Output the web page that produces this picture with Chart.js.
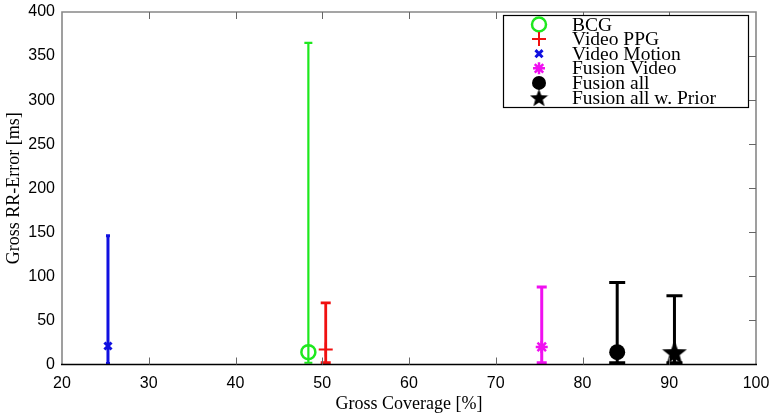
<!DOCTYPE html>
<html>
<head>
<meta charset="utf-8">
<script src="https://cdn.jsdelivr.net/npm/chart.js@4"></script>
<style>
  html, body { margin: 0; padding: 0; background: #fff; }
  #wrap { width: 771px; height: 414px; }
</style>
</head>
<body>
<div id="wrap"><canvas id="rrChart" width="771" height="414"></canvas></div>
<script>
// data
var seriesNames = ['BCG', 'Video PPG', 'Video Motion', 'Fusion Video', 'Fusion all', 'Fusion all w. Prior'];
var coverage = [48.4, 50.4, 25.3, 75.3, 84.0, 90.6];      // Gross Coverage [%]
var errMean = [14, 17, 21, 20, 14, 14];                   // Gross RR-Error [ms]
var errLow = [2, 2, 1, 2, 2, 2];
var errHigh = [365, 70, 146, 88, 93, 78];
var xTicks = [20, 30, 40, 50, 60, 70, 80, 90, 100];
var yTicks = [0, 50, 100, 150, 200, 250, 300, 350, 400];

// filled five-pointed star as point image
function makeStar(size) {
    var c = document.createElement('canvas');
    c.width = size; c.height = size;
    var g = c.getContext('2d');
    var r = size / 2, ri = r * 0.42;
    g.beginPath();
    for (var i = 0; i < 10; i++) {
        var rad = (i % 2 === 0) ? r : ri;
        var a = -Math.PI / 2 + i * Math.PI / 5;
        var px = r + rad * Math.cos(a), py = r + rad * Math.sin(a) + size * 0.05;
        if (i === 0) g.moveTo(px, py); else g.lineTo(px, py);
    }
    g.closePath();
    g.fillStyle = '#000';
    g.fill();
    return c;
}

var styles = [
    { color: '#1ee81e', point: 'circle', radius: 7, bw: 2.5, fill: 'rgba(0,0,0,0)', lw: 2.2, cap: 4, lr: 7 },
    { color: '#f01010', point: 'cross', radius: 7, bw: 2, fill: '#f01010', lw: 2.8, cap: 5, lr: 7 },
    { color: '#1010e0', point: 'crossRot', radius: 5, bw: 3, fill: '#1010e0', lw: 3, cap: 2, lr: 5 },
    { color: '#f010f0', point: 'star', radius: 6, bw: 2.5, fill: '#f010f0', lw: 3, cap: 5, lr: 6 },
    { color: '#000000', point: 'circle', radius: 8, bw: 0, fill: '#000000', lw: 3, cap: 8, lr: 7 },
    { color: '#000000', point: makeStar(26), radius: 12, bw: 0, fill: '#000000', lw: 3, cap: 8, lr: 9 }
];
var legendStar = makeStar(19);

var datasets = seriesNames.map(function(name, i) {
    var s = styles[i];
    return {
        label: name,
        data: [{ x: coverage[i], y: errMean[i] }],
        pointStyle: s.point,
        pointRadius: s.radius,
        pointBorderWidth: s.bw,
        borderColor: s.color,
        backgroundColor: s.fill,
        showLine: false,
        clip: false
    };
});

// error bars, drawn under the markers
var errorBars = {
    id: 'errorBars',
    beforeDatasetsDraw: function(chart) {
        var ctx = chart.ctx, xs = chart.scales.x, ys = chart.scales.y;
        ctx.save();
        for (var i = 0; i < coverage.length; i++) {
            var s = styles[i];
            var px = xs.getPixelForValue(coverage[i]);
            var y1 = ys.getPixelForValue(errLow[i]);
            var y2 = ys.getPixelForValue(errHigh[i]);
            ctx.strokeStyle = s.color;
            ctx.lineWidth = s.lw;
            ctx.beginPath();
            ctx.moveTo(px, y1); ctx.lineTo(px, y2);
            ctx.moveTo(px - s.cap, y1); ctx.lineTo(px + s.cap, y1);
            ctx.moveTo(px - s.cap, y2); ctx.lineTo(px + s.cap, y2);
            ctx.stroke();
        }
        ctx.restore();
    }
};

// matlab style box with inward ticks
var boxAxes = {
    id: 'boxAxes',
    afterDraw: function(chart) {
        var ctx = chart.ctx, a = chart.chartArea, xs = chart.scales.x, ys = chart.scales.y;
        ctx.save();
        ctx.strokeStyle = '#888';
        ctx.lineWidth = 1.6;
        ctx.beginPath();
        ctx.moveTo(a.left, a.bottom); ctx.lineTo(a.left, a.top);
        ctx.lineTo(a.right, a.top); ctx.lineTo(a.right, a.bottom);
        ctx.stroke();
        ctx.strokeStyle = '#000';
        ctx.lineWidth = 1.3;
        ctx.beginPath();
        ctx.moveTo(a.left - 1, a.bottom); ctx.lineTo(a.right + 1, a.bottom);
        ctx.stroke();
        ctx.strokeStyle = '#666';
        ctx.lineWidth = 1;
        ctx.beginPath();
        xTicks.forEach(function(v) {
            var p = Math.round(xs.getPixelForValue(v)) + 0.5;
            if (v === 20 || v === 100) return;
            ctx.moveTo(p, a.bottom); ctx.lineTo(p, a.bottom - 7);
            ctx.moveTo(p, a.top); ctx.lineTo(p, a.top + 7);
        });
        yTicks.forEach(function(v) {
            var p = Math.round(ys.getPixelForValue(v)) + 0.5;
            if (v === 0 || v === 400) return;
            ctx.moveTo(a.right, p); ctx.lineTo(a.right - 7, p);
        });
        ctx.stroke();

        // legend box
        var lx = 503, ly = 15, lw = 245, lh = 92;
        ctx.fillStyle = '#fff';
        ctx.fillRect(lx, ly, lw, lh);
        ctx.strokeStyle = '#000';
        ctx.lineWidth = 1.2;
        ctx.strokeRect(lx + 0.5, ly + 0.5, lw, lh);
        ctx.font = '19.5px "Liberation Serif"';
        ctx.textBaseline = 'middle';
        ctx.textAlign = 'left';
        for (var i = 0; i < seriesNames.length; i++) {
            var s = styles[i];
            var cy = 24.5 + i * 14.6;
            ctx.fillStyle = s.fill;
            ctx.strokeStyle = s.color;
            ctx.lineWidth = s.bw || 1;
            var ps = (i === 5) ? legendStar : s.point;
            Chart.helpers.drawPoint(ctx, { pointStyle: ps, radius: s.lr, rotation: 0, borderWidth: s.bw }, 539, cy);
            ctx.fillStyle = '#000';
            ctx.fillText(seriesNames[i], 572, cy + 1);
        }
        ctx.restore();
    }
};

var ctx = document.getElementById('rrChart').getContext('2d');
var rrChart = new Chart(ctx, {
    type: 'scatter',
    data: { datasets: datasets },
    options: {
        responsive: false,
        animation: false,
        layout: { padding: { left: 0, right: 15, top: 6.5, bottom: 0 } },
        plugins: {
            legend: { display: false },
            tooltip: { enabled: false }
        },
        scales: {
            x: {
                type: 'linear',
                min: 20,
                max: 100,
                grid: { display: false, drawTicks: false },
                border: { display: false },
                afterBuildTicks: function(scale) {
                    scale.ticks = xTicks.map(function(v) { return { value: v }; });
                },
                afterFit: function(scale) {
                    scale.height = 49.5;
                    scale.paddingLeft = 0;
                    scale.paddingRight = 0;
                },
                ticks: {
                    color: '#000',
                    padding: 9,
                    maxRotation: 0,
                    font: { family: 'Liberation Sans', size: 16 }
                },
                title: {
                    display: true,
                    text: 'Gross Coverage [%]',
                    color: '#000',
                    padding: { top: 0, bottom: -1 },
                    font: { family: 'Liberation Serif', size: 18 }
                }
            },
            y: {
                type: 'linear',
                min: 0,
                max: 400,
                grid: { display: false, drawTicks: false },
                border: { display: false },
                afterBuildTicks: function(scale) {
                    scale.ticks = yTicks.map(function(v) { return { value: v }; });
                },
                afterFit: function(scale) {
                    scale.width = 62;
                    scale.paddingTop = 0;
                    scale.paddingBottom = 0;
                },
                ticks: {
                    color: '#000',
                    padding: 7,
                    font: { family: 'Liberation Sans', size: 16 }
                },
                title: {
                    display: true,
                    text: 'Gross RR-Error [ms]',
                    color: '#000',
                    padding: { top: 3, bottom: 0 },
                    font: { family: 'Liberation Serif', size: 18 }
                }
            }
        }
    },
    plugins: [errorBars, boxAxes]
});
</script>
</body>
</html>
